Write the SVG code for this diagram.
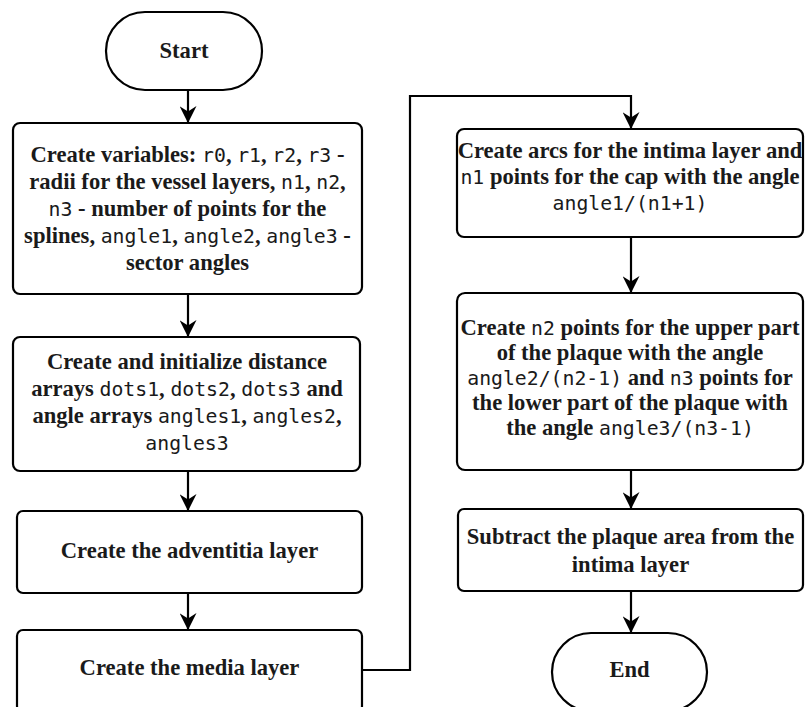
<svg xmlns="http://www.w3.org/2000/svg" width="805" height="707" viewBox="0 0 805 707">
<defs>
<style>
.n{fill:#fff;stroke:#000;stroke-width:2.2}
.t{font-family:"Liberation Serif","Times New Roman",serif;font-weight:bold;font-size:22.6px;fill:#1a1a1a;text-anchor:middle}
.m{font-family:"DejaVu Sans Mono","Liberation Mono",monospace;font-weight:normal;font-size:19.8px}
.c{fill:none;stroke:#000;stroke-width:2.2}
</style>
<marker id="ah" viewBox="0 0 16 16" markerWidth="17" markerHeight="17" markerUnits="userSpaceOnUse" refX="15" refY="8" orient="auto">
<path d="M0,0 L16,8 L0,16 L5,8 z" fill="#000"/>
</marker>
</defs>
<rect width="805" height="707" fill="#fff"/>
<g id="connectors">
<path class="c" d="M188,90 V122" marker-end="url(#ah)"/>
<path class="c" d="M188,294 V336" marker-end="url(#ah)"/>
<path class="c" d="M188,471 V510" marker-end="url(#ah)"/>
<path class="c" d="M188,593 V629" marker-end="url(#ah)"/>
<path class="c" d="M362,670 H410 V96 H631 V128" marker-end="url(#ah)"/>
<path class="c" d="M631,237 V292" marker-end="url(#ah)"/>
<path class="c" d="M631,470 V508" marker-end="url(#ah)"/>
<path class="c" d="M631,591 V632" marker-end="url(#ah)"/>
</g>
<g id="start">
<rect class="n" x="106" y="12" width="156" height="78" rx="39" ry="39"/>
<text class="t" x="184" y="58">Start</text>
</g>
<g id="box1">
<rect class="n" x="13" y="123" width="349" height="171" rx="7"/>
<text class="t" x="187.5" y="162">Create variables: <tspan class="m">r0</tspan>, <tspan class="m">r1</tspan>, <tspan class="m">r2</tspan>, <tspan class="m">r3</tspan> -</text>
<text class="t" x="187.5" y="189">radii for the vessel layers, <tspan class="m">n1</tspan>, <tspan class="m">n2</tspan>,</text>
<text class="t" x="187.5" y="216"><tspan class="m">n3</tspan> - number of points for the</text>
<text class="t" x="187.5" y="243">splines, <tspan class="m">angle1</tspan>, <tspan class="m">angle2</tspan>, <tspan class="m">angle3</tspan> -</text>
<text class="t" x="187.5" y="270">sector angles</text>
</g>
<g id="box2">
<rect class="n" x="13" y="337" width="347" height="134" rx="7"/>
<text class="t" x="187" y="369">Create and initialize distance</text>
<text class="t" x="187" y="396">arrays <tspan class="m">dots1</tspan>, <tspan class="m">dots2</tspan>, <tspan class="m">dots3</tspan> and</text>
<text class="t" x="187" y="423">angle arrays <tspan class="m">angles1</tspan>, <tspan class="m">angles2</tspan>,</text>
<text class="t" x="187" y="450"><tspan class="m">angles3</tspan></text>
</g>
<g id="box3">
<rect class="n" x="17" y="511" width="345" height="82" rx="6"/>
<text class="t" x="189.5" y="558">Create the adventitia layer</text>
</g>
<g id="box4">
<rect class="n" x="17" y="630" width="345" height="82" rx="6"/>
<text class="t" x="189.5" y="675">Create the media layer</text>
</g>
<g id="box5">
<rect class="n" x="457" y="129" width="346" height="108" rx="7"/>
<text class="t" x="630" y="158">Create arcs for the intima layer and</text>
<text class="t" x="630" y="184"><tspan class="m">n1</tspan> points for the cap with the angle</text>
<text class="t" x="630" y="210"><tspan class="m">angle1/(n1+1)</tspan></text>
</g>
<g id="box6">
<rect class="n" x="457" y="293" width="346" height="177" rx="8"/>
<text class="t" x="630" y="335">Create <tspan class="m">n2</tspan> points for the upper part</text>
<text class="t" x="630" y="360">of the plaque with the angle</text>
<text class="t" x="630" y="385"><tspan class="m">angle2/(n2-1)</tspan> and <tspan class="m">n3</tspan> points for</text>
<text class="t" x="630" y="410">the lower part of the plaque with</text>
<text class="t" x="630" y="435">the angle <tspan class="m">angle3/(n3-1)</tspan></text>
</g>
<g id="box7">
<rect class="n" x="458" y="509" width="345" height="82" rx="6"/>
<text class="t" x="630.5" y="544">Subtract the plaque area from the</text>
<text class="t" x="630.5" y="572">intima layer</text>
</g>
<g id="end">
<rect class="n" x="552" y="633" width="155" height="78" rx="39" ry="39"/>
<text class="t" x="629.5" y="677">End</text>
</g>
</svg>
